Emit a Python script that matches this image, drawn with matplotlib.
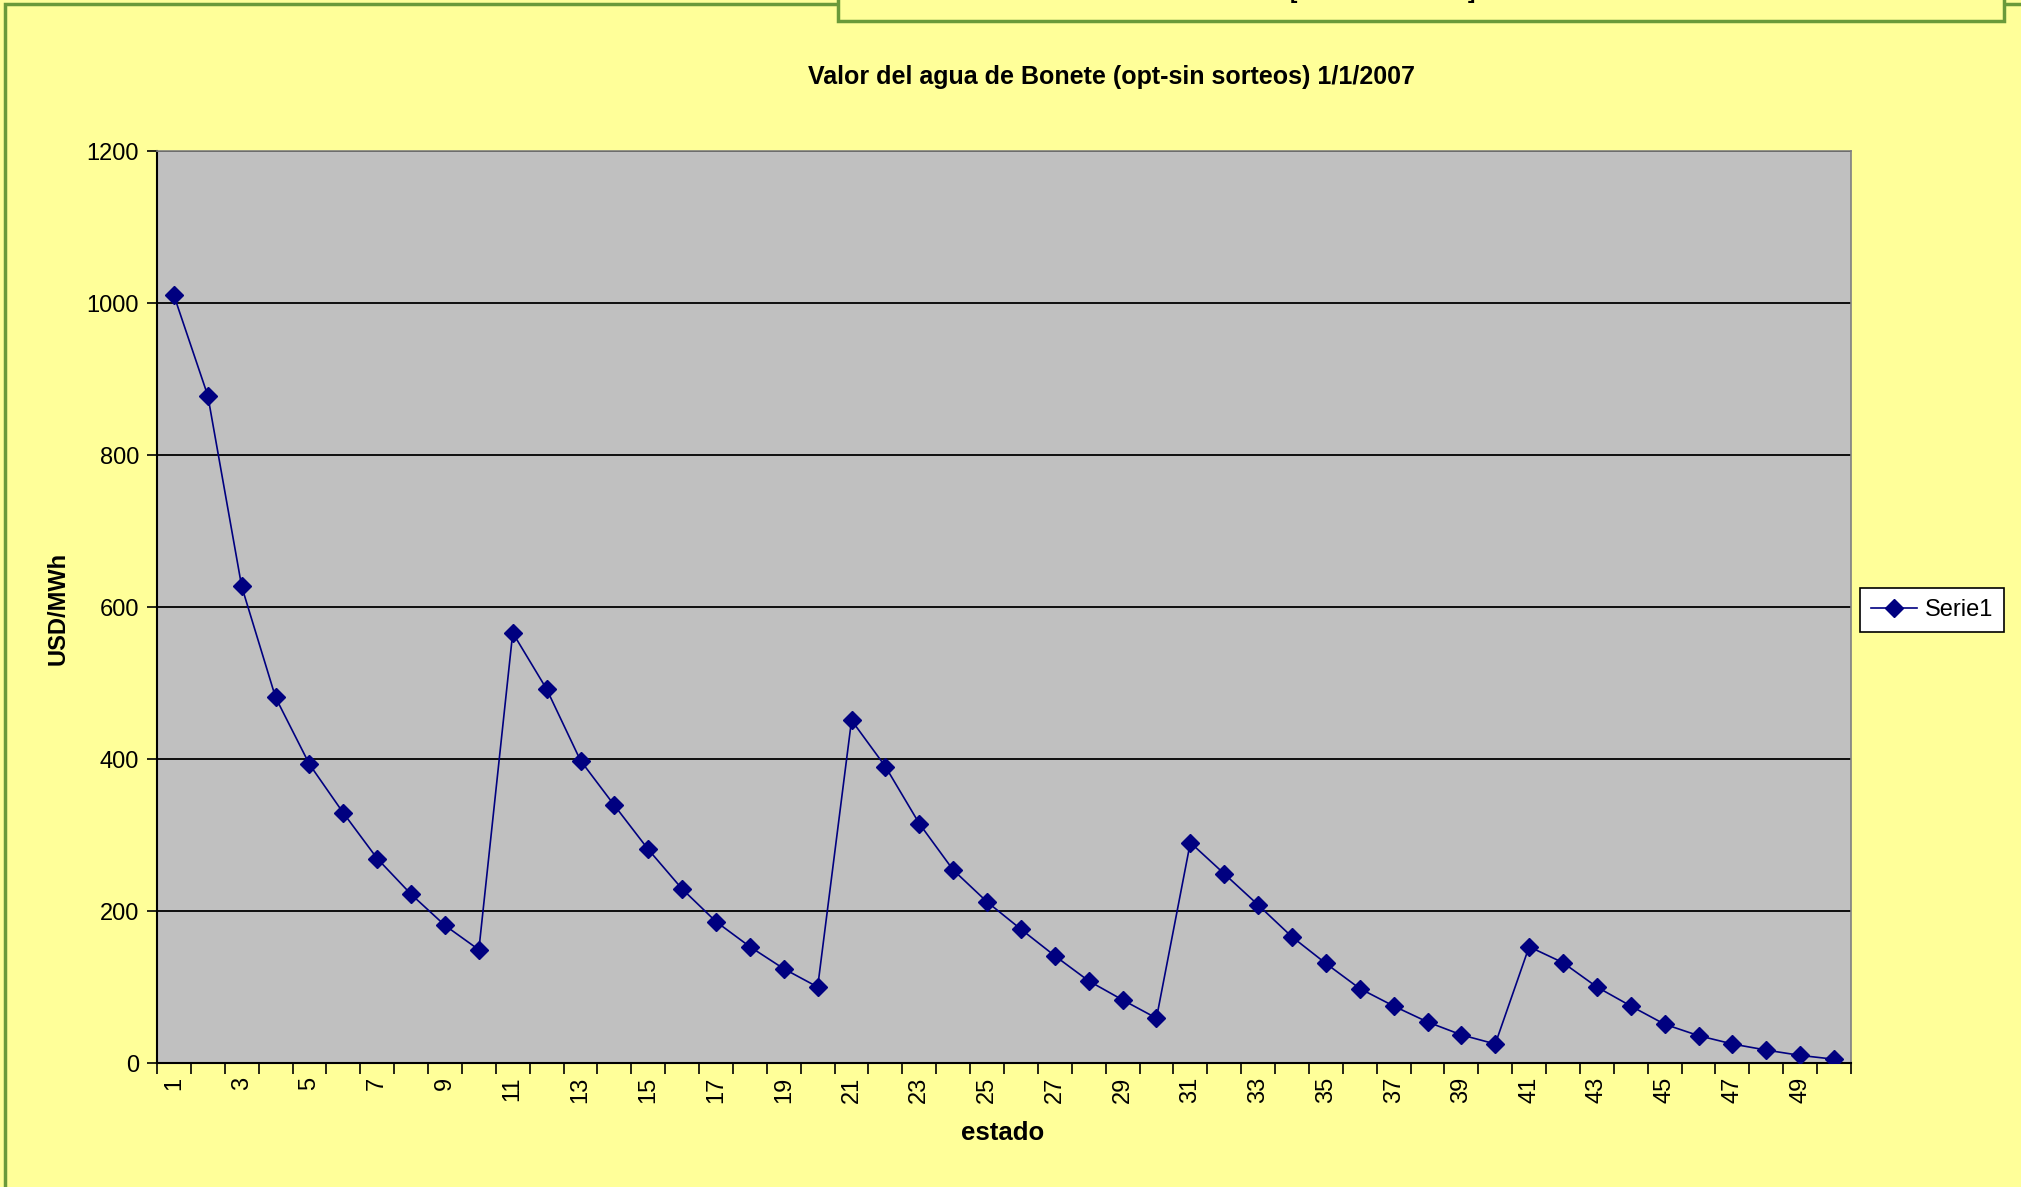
import matplotlib
matplotlib.use("Agg")
import matplotlib.pyplot as plt
from matplotlib.patches import Rectangle
from matplotlib.lines import Line2D

# ---- data ----
estados = list(range(1, 51))
valores = [1010, 878, 627, 481, 393, 329, 269, 222, 181, 149,
           566, 492, 398, 339, 281, 229, 186, 153, 124, 100,
           451, 390, 315, 254, 212, 176, 141, 108, 83, 59,
           290, 249, 208, 166, 131, 98, 75, 54, 37, 25,
           153, 132, 100, 75, 51, 36, 25, 17, 10, 5]
xtick_labels = [str(e) for e in estados[::2]]
yticks = [0, 200, 400, 600, 800, 1000, 1200]
titulo = "Valor del agua de Bonete (opt-sin sorteos) 1/1/2007"
serie_nombre = "Serie1"

plt.rcParams['font.family'] = ['Liberation Sans', 'DejaVu Sans']

W, H = 2021, 1187
fig = plt.figure(figsize=(W / 100, H / 100), dpi=100)
fig.patch.set_facecolor('#FFFF99')

# outer frame (green)
fig.add_artist(Rectangle((5 / W, -0.1), 1.2, 1.1 - 4 / H, transform=fig.transFigure,
                         fill=False, edgecolor='#6A9A3A', linewidth=2.5))
# top box partially visible
fig.add_artist(Rectangle((838 / W, 1 - 21 / H), (2004 - 838) / W, 0.1, transform=fig.transFigure,
                         facecolor='#FFFF99', edgecolor='#6A9A3A', linewidth=2.5))
fig.text(1290 / W, 1 - 3 / H, "[", fontsize=16, fontweight='bold', va='bottom', ha='left')
fig.text(1475 / W, 1 - 3 / H, "]", fontsize=16, fontweight='bold', va='bottom', ha='right')

left, right, top, bottom = 157, 1851, 151, 1063
ax = fig.add_axes([left / W, 1 - bottom / H, (right - left) / W, (bottom - top) / H])
ax.set_facecolor('#C0C0C0')

ax.plot(estados, valores, color='#000080', linewidth=1.2, marker='D',
        markersize=9, markerfacecolor='#000080', markeredgecolor='#000080', zorder=3)

ax.set_xlim(0.5, 50.5)
ax.set_ylim(0, 1200)
ax.set_yticks(yticks)
ax.set_yticklabels([str(v) for v in yticks], fontsize=17)
ax.yaxis.grid(True, color='black', linewidth=1.3)
ax.set_axisbelow(True)

ax.set_xticks([e - 0.5 for e in estados] + [50.5])
ax.set_xticklabels([])
ax.set_xticks(estados[::2], minor=True)
ax.set_xticklabels(xtick_labels, minor=True, rotation=90, fontsize=17)
ax.tick_params(axis='x', which='minor', length=0, pad=10)
ax.tick_params(axis='x', which='major', length=8, width=1.2, direction='out')
ax.tick_params(axis='y', length=7, width=1.2, direction='out', pad=6)

for s in ['top', 'right']:
    ax.spines[s].set_color('#808080')
    ax.spines[s].set_linewidth(1.2)
for s in ['left', 'bottom']:
    ax.spines[s].set_color('black')
    ax.spines[s].set_linewidth(1.5)

fig.text(58 / W, 1 - 608 / H, "USD/MWh", rotation=90, fontsize=17, fontweight='bold',
         ha='center', va='center')
fig.text(1003 / W, 1 - 1133 / H, "estado", fontsize=18.5, fontweight='bold',
         ha='center', va='center')
fig.text(1111 / W, 1 - 77 / H, titulo, fontsize=18, fontweight='bold',
         ha='center', va='center')

# legend
handle = Line2D([], [], color='#000080', linewidth=1.2, marker='D', markersize=9,
                markerfacecolor='#000080', markeredgecolor='#000080')
leg = fig.legend([handle], [serie_nombre], loc='center left',
                 bbox_to_anchor=(1860 / W, 1 - 610 / H), fontsize=17, frameon=True,
                 fancybox=False, edgecolor='black', facecolor='white', framealpha=1,
                 handlelength=1.95, borderpad=0.45, handletextpad=0.35, borderaxespad=0)
leg.get_frame().set_linewidth(1.2)

fig.savefig('out.png', dpi=100, facecolor=fig.get_facecolor())
